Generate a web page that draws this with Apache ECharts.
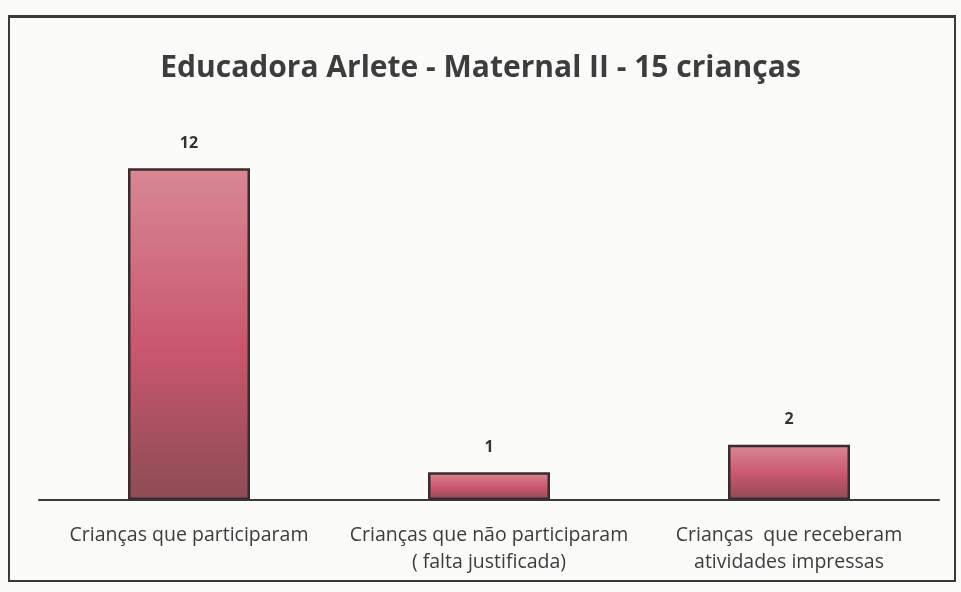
<!DOCTYPE html>
<html><head><meta charset="utf-8">
<script src="https://cdn.jsdelivr.net/npm/echarts@6/dist/echarts.min.js"></script>
<style>
html,body{margin:0;padding:0;background:#fbfbfa;}
#frame{position:absolute;left:8px;top:15px;width:944px;height:562px;border:2px solid #3a3a3a;border-top-width:3px;box-sizing:content-box;}
#c{position:absolute;left:0;top:0;width:961px;height:592px;}
</style></head>
<body>
<div id="frame"></div>
<div id="c"></div>
<script>
const categories = ["Crianças que participaram", "Crianças que não participaram\n( falta justificada)", "Crianças  que receberam\natividades impressas"];
const values = [12, 1, 2];
const titleText = "Educadora Arlete - Maternal II - 15 crianças";

const chart = echarts.init(document.getElementById('c'));
const grad = new echarts.graphic.LinearGradient(0,0,0,1,[
  {offset:0,color:'#d88894'},
  {offset:0.55,color:'#c9566c'},
  {offset:1,color:'#8c4c55'}
]);
chart.setOption({
  backgroundColor:'transparent',
  title:{text:titleText,left:'center',top:48,textStyle:{fontFamily:'Open Sans',fontWeight:'bold',fontSize:30,color:'#3d3d3d'}},
  grid:{left:39,right:22,top:113,bottom:92},
  xAxis:{type:'category',data:categories,
    axisLine:{lineStyle:{color:'#3a3a3a',width:2}},axisTick:{show:false},
    axisLabel:{fontFamily:'Open Sans',fontSize:19.5,color:'#3c3c3c',margin:22,lineHeight:27,interval:0}},
  yAxis:{type:'value',min:0,max:14,show:false,splitLine:{show:false}},
  series:[{type:'bar',data:values,barWidth:122,
    itemStyle:{color:grad,borderColor:'#3a2c2e',borderWidth:2.5},
    label:{show:true,position:'top',distance:17,fontFamily:'Open Sans',fontWeight:'bold',fontSize:16,color:'#333'}}]
});
</script>
</body></html>
